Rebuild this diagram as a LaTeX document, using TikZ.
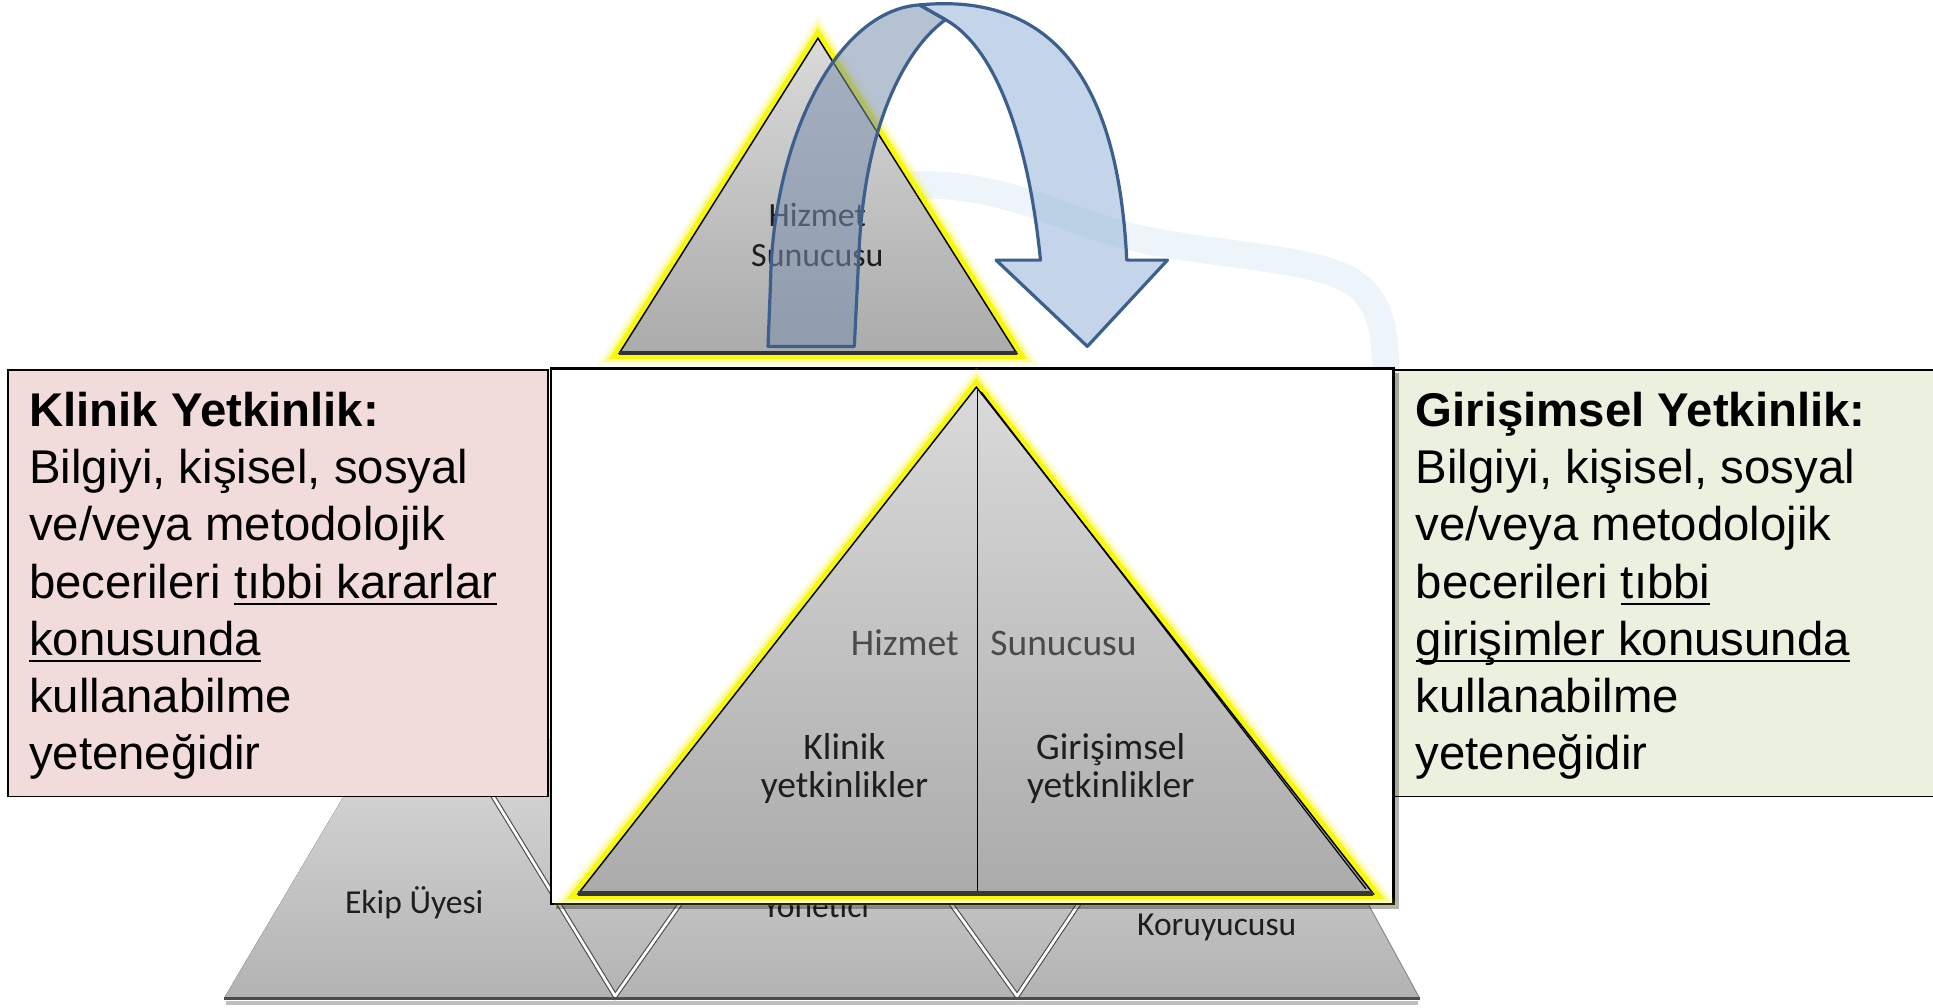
\documentclass[tikz,border=0pt]{standalone}
\usepackage{fontspec}
\setmainfont{Liberation Sans}
\newfontfamily\calfont{Carlito}
\definecolor{pinkbox}{HTML}{F2DCDB}
\definecolor{greenbox}{HTML}{EBF1DE}
\definecolor{arrowfrontc}{HTML}{95B3D7}
\definecolor{arrowbackc}{HTML}{7A90AE}
\definecolor{arrowline}{HTML}{3C5F8D}
\definecolor{swooshc}{HTML}{EDF4FA}
\definecolor{glowc}{HTML}{F8F80C}
\definecolor{grytop}{HTML}{DADADA}
\definecolor{grybot}{HTML}{ABABAB}
\definecolor{bottop}{HTML}{D9D9D9}
\definecolor{botbot}{HTML}{B3B3B3}
\definecolor{lbldark}{HTML}{1E1E1E}
\definecolor{lblmid}{HTML}{4A4A4A}
\newcommand{\myul}[1]{\setbox0=\hbox{#1}\rlap{\rule[-0.15em]{\wd0}{0.055em}}\box0}
\begin{document}
\begin{tikzpicture}[x=0.5pt,y=-0.5pt,
  outl/.style={draw=black,line width=0.6pt,line join=miter},
  trishade/.style={top color=grytop,bottom color=grybot},
  glowouter/.style={draw=glowc,line width=10pt,opacity=0.15,line join=miter},
  glowwide/.style={draw=glowc,line width=7pt,opacity=0.35,line join=miter},
  glownarrow/.style={draw=glowc,line width=4.6pt,line join=miter},
  textbox/.style={draw=black,line width=0.7pt},
  boxline/.style={anchor=base west,inner sep=0pt,font=\fontsize{19.2pt}{23.2pt}\selectfont},
  midlbl/.style={inner sep=0pt,font=\calfont\fontsize{15.2pt}{16pt}\selectfont,text=lbldark},
  toplbl/.style={anchor=base,inner sep=0pt,font=\calfont\fontsize{13.75pt}{16pt}\selectfont,text=lbldark},
  botlbl/.style={anchor=base,inner sep=0pt,font=\calfont\fontsize{13.6pt}{16pt}\selectfont,text=lbldark},
  vline/.style={draw=black!70,line width=0.45pt,double=white,double distance=1.1pt,line join=miter},
  arrowpart/.style={draw=arrowline,line width=1.3pt,line join=round}
]
\useasboundingbox (0,0) rectangle (1568,817);
\fill[white] (0,0) rectangle (1568,817);

% faint swoosh
\draw[swooshc,line width=11pt,line cap=round]
  (740,150) .. controls (820,148) and (860,180) .. (930,195)
  .. controls (1010,210) and (1080,210) .. (1105,235)
  .. controls (1122,252) and (1124,275) .. (1124,305);

% bottom tier
\fill[top color=bottop,bottom color=botbot]
  (181.6,809.8) -- (306,600) -- (1037,600) -- (1151.6,809.8) -- cycle;
\draw[black!45,line width=0.4pt] (1151.6,809.8) -- (1037,600);
\draw[vline] (384,620) -- (499,808) -- (561,720);
\draw[vline] (762,720) -- (825,808) -- (884,720);
\draw[black!25,line width=1.4pt] (183,813.5) -- (1150,813.5);
\draw[black!70,line width=1.4pt] (181.6,809.8) -- (1151.6,809.8);
\node[botlbl] (ekip) at (336,741) {Ekip Üyesi};
\node[botlbl] (yon) at (662,744) {Yönetici};
\node[botlbl] (koru) at (987,759) {Koruyucusu};

% top small triangle
\coordinate (tA) at (663.5,31);
\coordinate (tL) at (502.3,286.6);
\coordinate (tR) at (824.7,286.6);
\draw[glowouter] (tA) -- (tL) -- (tR) -- cycle;
\draw[glowwide] (tA) -- (tL) -- (tR) -- cycle;
\draw[glownarrow] (tA) -- (tL) -- (tR) -- cycle;
\path[trishade,outl] (tA) -- (tL) -- (tR) -- cycle;
\draw[black!80,line width=1.6pt] (tL) -- (tR);
\node[toplbl] (topHiz) at (663,184) {Hizmet};
\node[toplbl] (topSun) at (663,216) {Sunucusu};

% curved arrow
\path[arrowpart,fill=arrowbackc,fill opacity=0.55]
  (623,281) -- (625,230) .. controls (627,110) and (680,8) .. (746,4)
  -- (767,16) .. controls (740,35) and (703,90) .. (697,200) -- (693,281) -- cycle;
\path[arrowpart,fill=arrowfrontc,fill opacity=0.55]
  (746,4) .. controls (870,-8) and (908,90) .. (914,211)
  -- (947,211) -- (882,281) -- (808,211) -- (844,211)
  .. controls (835,120) and (810,40) .. (767,16) -- cycle;

% side text boxes
\draw[textbox,fill=pinkbox] (6.4,300) rectangle (444.7,646);
\draw[textbox,fill=greenbox] (1130.3,300) rectangle (1580,646);
\foreach \t [count=\i from 0] in {{\textbf{Klinik Yetkinlik:}},{Bilgiyi, kişisel, sosyal},{ve/veya metodolojik},{becerileri \myul{tıbbi kararlar}},{\myul{konusunda}},{kullanabilme},{yeteneğidir}}
  \node[boxline] (kl\i) at (23.2,{346+46.4*\i}) {\t};
\foreach \t [count=\i from 0] in {{\textbf{Girişimsel Yetkinlik:}},{Bilgiyi, kişisel, sosyal},{ve/veya metodolojik},{becerileri \myul{tıbbi}},{\myul{girişimler konusunda}},{kullanabilme},{yeteneğidir}}
  \node[boxline] (gr\i) at (1148,{346+46.4*\i}) {\t};

% middle white box with shadow
\fill[black,opacity=0.3] (451,302.5) rectangle (1134.5,737);
\draw[black,line width=1pt,fill=white] (447,298.8) rectangle (1130.5,733.5);

% middle triangle
\coordinate (mA) at (792,314);
\coordinate (mL) at (469,725);
\coordinate (mR) at (1114,725);
\draw[glowouter] (mA) -- (mL) -- (mR) -- cycle;
\draw[glowwide] (mA) -- (mL) -- (mR) -- cycle;
\draw[glownarrow] (mA) -- (mL) -- (mR) -- cycle;
\path[trishade,outl] (mA) -- (mL) -- (mR) -- cycle;
\draw[black,line width=0.5pt] (796,318) -- (1108,721);
\draw[black,line width=0.7pt] (793,316) -- (793,725);
\draw[black!78,line width=2.2pt] (mL) -- (mR);
\node[midlbl,anchor=base east,text=lblmid] (midHiz) at (778,532) {Hizmet};
\node[midlbl,anchor=base west,text=lblmid] (midSun) at (803,532) {Sunucusu};
\node[midlbl,anchor=base] (klin1) at (685,616) {Klinik};
\node[midlbl,anchor=base] (klin2) at (685,647) {yetkinlikler};
\node[midlbl,anchor=base] (gir1) at (901,616) {Girişimsel};
\node[midlbl,anchor=base] (gir2) at (901,647) {yetkinlikler};
\end{tikzpicture}
\end{document}
